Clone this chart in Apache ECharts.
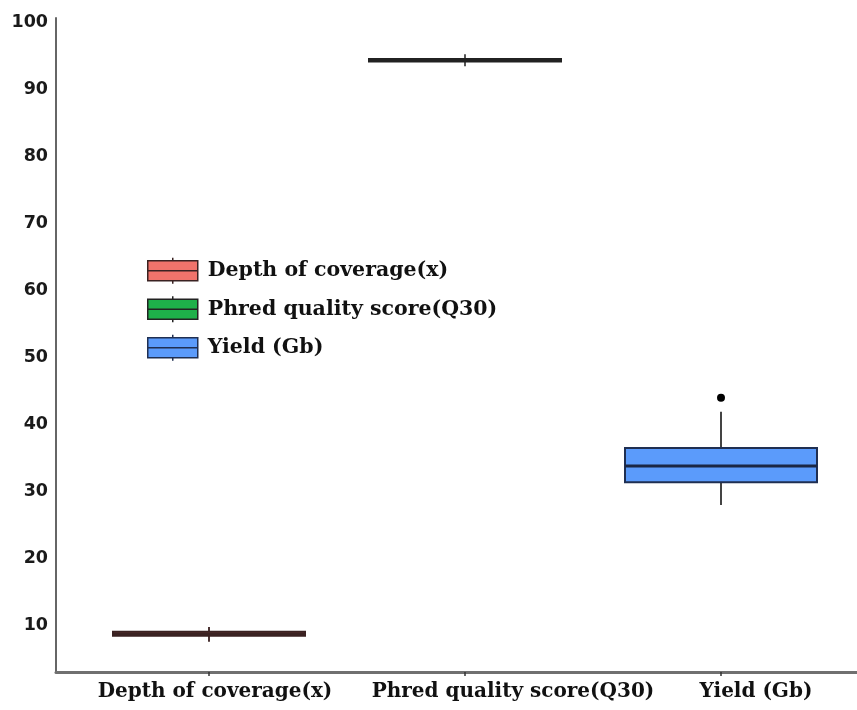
<!DOCTYPE html>
<html>
<head>
<meta charset="utf-8">
<script src="https://cdn.jsdelivr.net/npm/echarts@6/dist/echarts.min.js"></script>
<style>
  html, body { margin: 0; padding: 0; background: #ffffff; }
  #chart { width: 857px; height: 710px; }
</style>
</head>
<body>
<div id="chart"></div>
<script>
// ---- data ----
const categories = ['Depth of coverage(x)', 'Phred quality score(Q30)', 'Yield (Gb)'];
// [whisker low, Q1, median, Q3, whisker high]
const depthStats = [7.6, 8.5, 8.8, 9.1, 9.8];
const phredStats = [93.4, 94.1, 94.3, 94.5, 95.2];
const yieldStats = [28.0, 31.4, 33.8, 36.5, 41.9];
const yieldOutliers = [44.0];
const yTickValues = [10, 20, 30, 40, 50, 60, 70, 80, 90, 100];

const Y_MIN = 3.1, Y_MAX = 100.6;

const seriesStyles = [
  { fill: '#f0736b', border: '#3a2222', median: '#3a2222', whisker: '#4a3333' },
  { fill: '#1eb04a', border: '#222222', median: '#222222', whisker: '#555555' },
  { fill: '#5b9bfb', border: '#1f2f52', median: '#1a2745', whisker: '#444444' }
];

function makeRender(st) {
  return function (params, api) {
    const x = api.value(0);
    const lo = api.coord([x, api.value(1)]);
    const q1 = api.coord([x, api.value(2)]);
    const med = api.coord([x, api.value(3)]);
    const q3 = api.coord([x, api.value(4)]);
    const hi = api.coord([x, api.value(5)]);
    const band = api.size([1, 0])[0];
    const w = band * 0.75;
    const cx = med[0];
    return {
      type: 'group',
      children: [
        { type: 'line', shape: { x1: cx, y1: lo[1], x2: cx, y2: q1[1] },
          style: { stroke: st.whisker, lineWidth: 2 } },
        { type: 'line', shape: { x1: cx, y1: q3[1], x2: cx, y2: hi[1] },
          style: { stroke: st.whisker, lineWidth: 2 } },
        { type: 'rect', shape: { x: cx - w / 2, y: q3[1], width: w, height: q1[1] - q3[1] },
          style: { fill: st.fill, stroke: st.border, lineWidth: 2 } },
        { type: 'line', shape: { x1: cx - w / 2, y1: med[1], x2: cx + w / 2, y2: med[1] },
          style: { stroke: st.median, lineWidth: 3 } }
      ]
    };
  };
}

const legendIcon = 'path://M0,3 L50,3 L50,23 L0,23 Z M0,13 L50,13 M25,0 L25,3 M25,23 L25,26';

const chart = echarts.init(document.getElementById('chart'), null, { renderer: 'canvas' });

const serifFont = 'DejaVu Serif';
const labelPad = [12, 96, 70];

chart.setOption({
  backgroundColor: '#ffffff',
  animation: false,
  legend: {
    left: 142,
    top: 252,
    orient: 'vertical',
    itemWidth: 50,
    itemHeight: 26,
    itemGap: 11,
    selectedMode: false,
    textStyle: { fontFamily: serifFont, fontWeight: 'bold', fontSize: 20.5, lineHeight: 26, color: '#111', padding: [0, 0, 0, 5] },
    data: categories.map((name, i) => ({
      name: name,
      icon: legendIcon,
      itemStyle: { color: seriesStyles[i].fill, borderColor: seriesStyles[i].border, borderWidth: 1.5 }
    }))
  },
  grid: [
    { left: 56, right: 0, top: 18, bottom: 38 },
    { left: 81, right: 8, top: 18, bottom: 38 }
  ],
  xAxis: [
    {
      gridIndex: 0, type: 'value', min: 0, max: 1,
      axisLine: { show: true, onZero: false, lineStyle: { color: '#707070', width: 3 } },
      axisTick: { show: false }, axisLabel: { show: false }, splitLine: { show: false }
    },
    {
      gridIndex: 1, type: 'category', data: categories, boundaryGap: true,
      axisLine: { show: false },
      axisTick: { show: true, alignWithLabel: true, length: 4, lineStyle: { color: '#333', width: 1.5 } },
      axisLabel: {
        margin: 10,
        interval: 0,
        formatter: function (value, index) { return '{c' + index + '|' + value + '}'; },
        rich: {
          c0: { fontFamily: serifFont, fontWeight: 'bold', fontSize: 20, color: '#111', padding: [0, 0, 0, labelPad[0]] },
          c1: { fontFamily: serifFont, fontWeight: 'bold', fontSize: 20, color: '#111', padding: [0, 0, 0, labelPad[1]] },
          c2: { fontFamily: serifFont, fontWeight: 'bold', fontSize: 20, color: '#111', padding: [0, 0, 0, labelPad[2]] }
        }
      },
      splitLine: { show: false }
    }
  ],
  yAxis: [
    {
      gridIndex: 0, type: 'value', min: Y_MIN, max: Y_MAX,
      axisLine: { show: true, onZero: false, lineStyle: { color: '#666', width: 2 } },
      axisTick: { show: false },
      axisLabel: {
        customValues: yTickValues,
        margin: 8,
        fontFamily: 'DejaVu Sans', fontWeight: 'bold', fontSize: 17.5, color: '#1a1a1a'
      },
      splitLine: { show: false }
    },
    {
      gridIndex: 1, type: 'value', min: Y_MIN, max: Y_MAX, show: false,
      splitLine: { show: false }
    }
  ],
  series: [
    {
      name: categories[0], type: 'custom', xAxisIndex: 1, yAxisIndex: 1,
      renderItem: makeRender(seriesStyles[0]),
      encode: { x: 0, y: [1, 2, 3, 4, 5] },
      itemStyle: { color: seriesStyles[0].fill },
      data: [[0].concat(depthStats)]
    },
    {
      name: categories[1], type: 'custom', xAxisIndex: 1, yAxisIndex: 1,
      renderItem: makeRender(seriesStyles[1]),
      encode: { x: 0, y: [1, 2, 3, 4, 5] },
      itemStyle: { color: seriesStyles[1].fill },
      data: [[1].concat(phredStats)]
    },
    {
      name: categories[2], type: 'custom', xAxisIndex: 1, yAxisIndex: 1,
      renderItem: makeRender(seriesStyles[2]),
      encode: { x: 0, y: [1, 2, 3, 4, 5] },
      itemStyle: { color: seriesStyles[2].fill },
      data: [[2].concat(yieldStats)]
    },
    {
      name: 'outliers', type: 'scatter', xAxisIndex: 1, yAxisIndex: 1,
      symbol: 'circle', symbolSize: 8,
      itemStyle: { color: '#000', opacity: 1 },
      data: yieldOutliers.map(v => [2, v])
    }
  ]
});
</script>
</body>
</html>
